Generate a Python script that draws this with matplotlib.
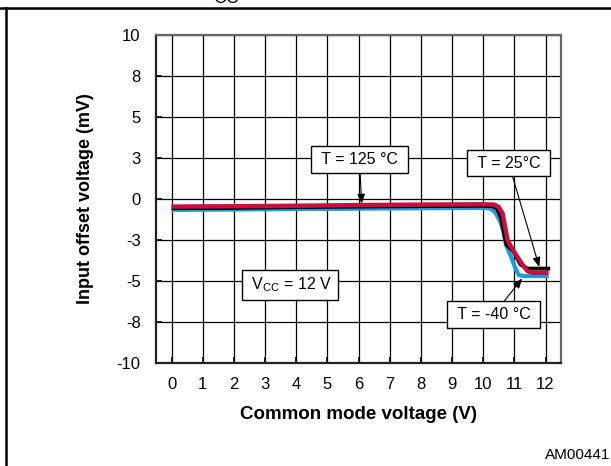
import matplotlib
matplotlib.use("Agg")
import matplotlib.pyplot as plt

plt.rcParams['font.family'] = ['Liberation Sans', 'DejaVu Sans']
plt.rcParams['mathtext.fontset'] = 'custom'
plt.rcParams['mathtext.rm'] = 'Liberation Sans'

# input offset voltage vs common mode voltage, Vcc = 12 V
x_125 = [0, 2, 4, 6, 8, 10, 10.35, 10.5, 10.62, 10.7, 10.78, 10.89, 11.05, 11.26, 11.42, 11.6, 12.1]
v_125 = [-0.47, -0.45, -0.42, -0.38, -0.35, -0.33, -0.35, -0.5, -0.87, -1.68, -2.5, -2.9, -3.4, -4.0, -4.4, -4.5, -4.5]

x_25 = [0, 2, 4, 6, 8, 10, 10.3, 10.45, 10.58, 10.68, 10.75, 10.97, 11.2, 11.42, 11.6, 12.15]
v_25 = [-0.57, -0.55, -0.5, -0.47, -0.44, -0.42, -0.45, -0.6, -1.2, -2.2, -2.8, -3.2, -4.0, -4.25, -4.25, -4.25]

x_m40 = [0, 2, 4, 6, 8, 10, 10.25, 10.4, 10.55, 10.65, 10.73, 10.89, 11.05, 11.15, 11.3, 12.1]
v_m40 = [-0.67, -0.65, -0.62, -0.6, -0.57, -0.55, -0.6, -0.85, -1.4, -2.0, -2.8, -3.5, -4.3, -4.65, -4.7, -4.7]

x_ticks = list(range(0, 13))
y_ticks = [-10, -7.5, -5, -2.5, 0, 2.5, 5, 7.5, 10]
y_labels = ["-10", "-8", "-5", "-3", "0", "3", "5", "8", "10"]

fig = plt.figure(figsize=(6.11, 4.66), dpi=100)
ax = fig.add_axes([0.2553, 0.221, 0.663, 0.7045])

ax.plot(x_m40, v_m40, color="#1b9bd7", lw=3.0, solid_joinstyle="round", solid_capstyle="butt", zorder=3)
ax.plot(x_25, v_25, color="black", lw=2.8, solid_joinstyle="round", solid_capstyle="butt", zorder=4)
ax.plot(x_125, v_125, color="#c8103e", lw=3.2, solid_joinstyle="round", solid_capstyle="butt", zorder=5)

ax.set_xlim(-0.5, 12.5)
ax.set_ylim(-10, 10)
ax.set_xticks(x_ticks)
ax.set_yticks(y_ticks)
ax.set_yticklabels(y_labels)
ax.grid(True, color="black", lw=0.9)
ax.tick_params(direction="in", length=4, width=1.2, labelsize=12, color="black")
ax.tick_params(axis="y", pad=11)
ax.tick_params(axis="x", pad=10)
for s in ax.spines.values():
    s.set_color("#666666")
    s.set_linewidth(1.6)
ax.spines["left"].set_color("#222222")
ax.spines["bottom"].set_color("#222222")

ax.set_xlabel("Common mode voltage (V)", fontsize=13.5, fontweight="bold", labelpad=10)
ax.set_ylabel("Input offset voltage (mV)", fontsize=13, fontweight="bold", labelpad=16)

box = dict(boxstyle="square,pad=0.35", fc="white", ec="black", lw=1.0)
arrow = dict(arrowstyle="-|>,head_length=0.5,head_width=0.2", color="black", lw=0.8, shrinkA=0, shrinkB=0)

ax.annotate(" T = 125 °C ", xy=(6.1, -0.3), xytext=(6.03, 2.4), fontsize=11.5,
            ha="center", va="center", bbox=box, arrowprops=arrow, zorder=6)
ax.annotate(" T = 25°C ", xy=(11.8, -4.15), xytext=(10.82, 2.16), fontsize=11.5,
            ha="center", va="center", bbox=box, arrowprops=arrow, zorder=6)
ax.annotate(" T = -40 °C ", xy=(11.25, -4.85), xytext=(10.34, -7.04), fontsize=11.5,
            ha="center", va="center", bbox=box, arrowprops=arrow, zorder=6)
ax.text(3.8, -5.24, r" V$_{\mathrm{CC}}$ = 12 V ", fontsize=11.5, ha="center", va="center",
        bbox=box, zorder=6)

# page frame and cut-off heading
fig.add_artist(plt.Line2D([0, 1], [1 - 8 / 466, 1 - 8 / 466], color="black", lw=1.8))
fig.add_artist(plt.Line2D([6 / 611, 6 / 611], [0, 1 - 8 / 466], color="black", lw=1.8))
fig.text(226 / 611, 1 - 3 / 466, "CC", fontsize=13, ha="center", va="baseline")
fig.text(610 / 611, 1 - 455 / 466, "AM00441", fontsize=11, ha="right", va="center")

fig.savefig("out.png", dpi=100)
